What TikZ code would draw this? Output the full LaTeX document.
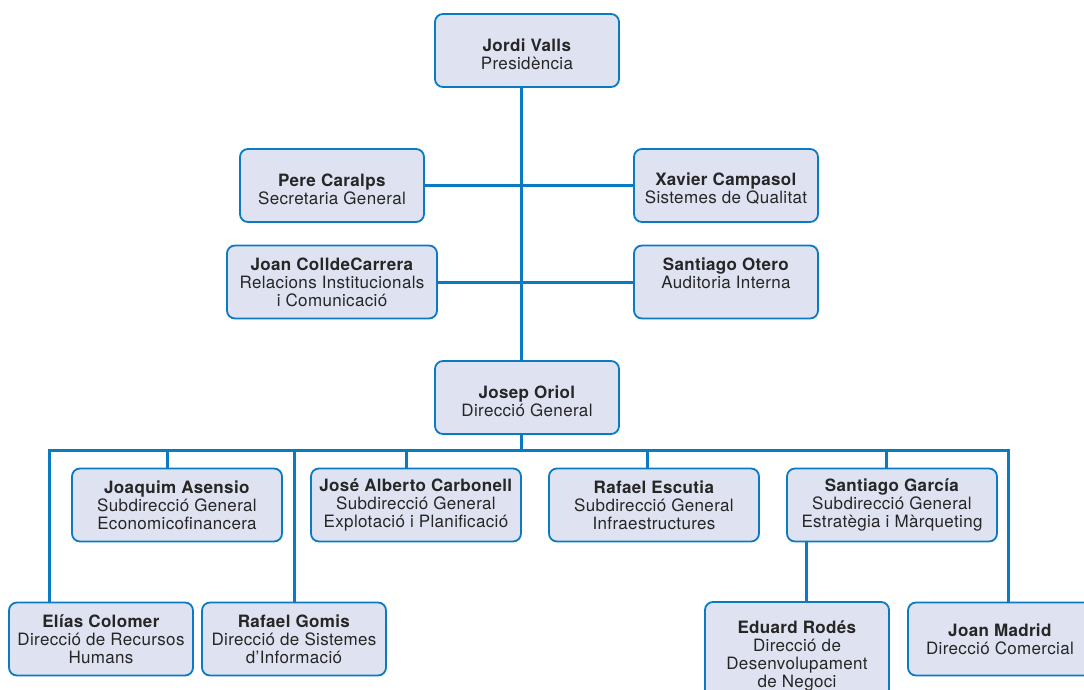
\documentclass[tikz,border=0pt]{standalone}
\usepackage{fontspec}
\setmainfont[LetterSpace=2]{TeX Gyre Heros}
\usepackage{xcolor}
\usepackage{tikz}
\usetikzlibrary{positioning}

\definecolor{orgblue}{HTML}{0A7BC2}
\definecolor{orgfill}{HTML}{DFE3F1}

% name line, the second one sits a little lower in its box
\newcommand{\who}[1]{\textbf{#1}}
\newcommand{\wholow}[1]{\rule{0pt}{19.5pt}\textbf{#1}}

\tikzset{
  post/.style={draw=orgblue, line width=1.8pt, fill=orgfill, rounded corners=8pt,
    align=center, minimum width=184, minimum height=73, inner sep=2pt,
    font=\fontsize{17}{18}\selectfont, text=black!85},
  widepost/.style={post, minimum width=210},
  link/.style={draw=orgblue, line width=3pt}
}

\begin{document}
\begin{tikzpicture}[x=1pt,y=-1pt]
          \useasboundingbox (0,0) rectangle (1084,689);

          \node[post] (valls) at (527,50.5) {\wholow{Jordi Valls}\\Presidència};

          \node[post] (caralps) at (332,185.5) {\wholow{Pere Caralps}\\Secretaria General};
          \node[post] (campasol) at (726,185.5) {\wholow{Xavier Campasol}\\Sistemes de Qualitat};
          \node[widepost] (carrera) at (332,282) {\who{Joan ColldeCarrera}\\Relacions Institucionals\\i Comunicació};
          \node[post] (otero) at (726,282) {\who{Santiago Otero}\\Auditoria Interna\\\mbox{}};

          \node[post] (oriol) at (527,397.5) {\wholow{Josep Oriol}\\Direcció General};

          \node[widepost] (asensio) at (177,505) {\who{Joaquim Asensio}\\Subdirecció General\\Economicofinancera};
          \node[widepost] (carbonell) at (416,505) {\who{José Alberto Carbonell}\\Subdirecció General\\Explotació i Planificació};
          \node[widepost] (escutia) at (654,505) {\who{Rafael Escutia}\\Subdirecció General\\Infraestructures};
          \node[widepost] (garcia) at (892,505) {\who{Santiago García}\\Subdirecció General\\Estratègia i Màrqueting};

          \node[post] (colomer) at (101,639) {\who{Elías Colomer}\\Direcció de Recursos\\Humans};
          \node[post] (gomis) at (294,639) {\who{Rafael Gomis}\\Direcció de Sistemes\\d’Informació};
          \node[post, minimum height=108] (rodes) at (797,656) {\who{Eduard Rodés}\\Direcció de\\Desenvolupament\\de Negoci};
          \node[post] (madrid) at (1000,639) {\who{Joan Madrid}\\Direcció Comercial};

          \coordinate (busW) at (49,450);
          \coordinate (busE) at (1008,450);

          \draw[link] ([xshift=-6pt]valls.south) -- ([xshift=-6pt]oriol.north);
          \draw[link] (caralps.east) -- (campasol.west);
          \draw[link] (carrera.east) -- (carrera.east -| otero.west);

          \draw[link] ([xshift=-6pt]oriol.south) -- ([xshift=-6pt]oriol.south |- busW);
          \draw[link] (colomer.north -| busW) |- (busE) -- (busE |- madrid.north);
          \draw[link] ([xshift=-10pt]asensio.north) -- ([xshift=-10pt]asensio.north |- busW);
          \draw[link] (gomis.north) -- (gomis.north |- busW);
          \draw[link] ([xshift=-10pt]carbonell.north) -- ([xshift=-10pt]carbonell.north |- busW);
          \draw[link] ([xshift=-7pt]escutia.north) -- ([xshift=-7pt]escutia.north |- busW);
          \draw[link] ([xshift=-6pt]garcia.north) -- ([xshift=-6pt]garcia.north |- busW);
          \draw[link] ([xshift=9pt]rodes.north) -- ([xshift=9pt]rodes.north |- garcia.south);

    \end{tikzpicture}
\end{document}
